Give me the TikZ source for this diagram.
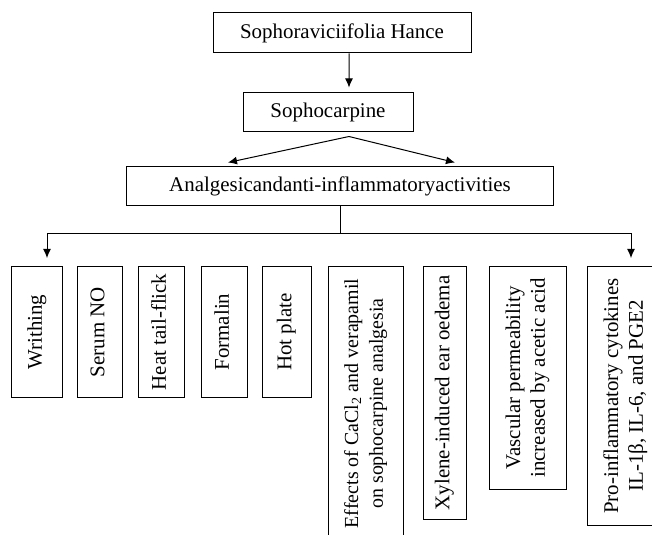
\documentclass[tikz,border=0pt]{standalone}
\usepackage{fontspec}
\setmainfont{Liberation Serif}
\usetikzlibrary{positioning,arrows.meta}

\tikzset{
	box/.style={draw,line width=1bp,inner sep=0pt,font=\fontsize{21}{25}\selectfont},
	test/.style={box,anchor=north},
	link/.style={line width=1bp}
}
\newcommand{\upright}[1]{\rotatebox{90}{\begin{tabular}{@{}c@{}}#1\end{tabular}}}

\begin{document}
\begin{tikzpicture}[>={Latex[length=9bp,width=8bp]},x=1bp,y=-1bp]
		\useasboundingbox (0,0) rectangle (652,535);
		% top chain
		\node[box,minimum width=258bp,minimum height=40bp] (hance) at (342,33) {Sophoraviciifolia Hance};
		\node[box,minimum width=170bp,minimum height=39bp] (soph) at (328,112.5) {Sophocarpine};
		\node[box,minimum width=426bp,minimum height=39bp] (ana) at (340,186.5) {Analgesicandanti-inflammatoryactivities};
		% tests
		\node[test,minimum width=50bp,minimum height=131bp] (writhing) at (37,266) {\upright{Writhing}};
		\node[test,minimum width=45bp,minimum height=131bp] (serum) at (99.5,266) {\upright{Serum NO}};
		\node[test,minimum width=46bp,minimum height=131bp] (tailflick) at (161,266) {\upright{Heat tail-flick}};
		\node[test,minimum width=46bp,minimum height=131bp] (formalin) at (224,266) {\upright{Formalin}};
		\node[test,minimum width=49bp,minimum height=131bp] (hotplate) at (286.5,266) {\upright{Hot plate}};
		\node[test,minimum width=75bp,minimum height=274bp,font=\fontsize{20}{25}\selectfont] (cacl) at (365.5,266) {\upright{Effects of CaCl\textsubscript{2} and verapamil\\on sophocarpine analgesia}};
		\node[test,minimum width=43bp,minimum height=253bp] (xylene) at (444.5,266) {\upright{Xylene-induced ear oedema}};
		\node[test,minimum width=77bp,minimum height=223bp] (vascular) at (527.5,266) {\upright{Vascular permeability\\increased by acetic acid}};
		\node[test,minimum width=77bp,minimum height=259bp] (cytokines) at (625.5,266) {\upright{Pro-inflammatory cytokines\\IL-1β, IL-6, and PGE2}};
		% arrows
		\draw[link,->] ([xshift=7bp]hance.south) -- ([xshift=21bp,yshift=5bp]soph.north);
		\coordinate (fork) at ([xshift=21bp,yshift=-4bp]soph.south);
		\draw[link,->] (fork) -- ([xshift=-112bp,yshift=4bp]ana.north);
		\draw[link,->] (fork) -- ([xshift=115bp,yshift=4bp]ana.north);
		\coordinate (bus) at (340,234);
		\draw[link] (ana.south) -- (bus);
		\draw[link,->] (bus) -| ([xshift=10bp,yshift=8bp]writhing.north);
		\draw[link,->] (bus) -| ([xshift=5.5bp,yshift=8bp]cytokines.north);
\end{tikzpicture}
\end{document}
